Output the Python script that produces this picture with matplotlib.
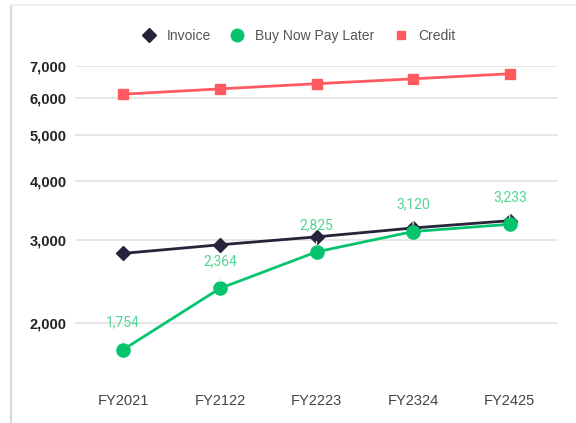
import matplotlib
matplotlib.use("Agg")
import matplotlib.pyplot as plt
from matplotlib.lines import Line2D
from matplotlib.ticker import FixedLocator, NullLocator, FuncFormatter

categories = ["FY2021", "FY2122", "FY2223", "FY2324", "FY2425"]
invoice = [2805, 2925, 3040, 3175, 3290]
bnpl = [1754, 2364, 2825, 3120, 3233]
credit = [6100, 6260, 6420, 6575, 6740]
bnpl_labels = ["1,754", "2,364", "2,825", "3,120", "3,233"]
y_ticks = [2000, 3000, 4000, 5000, 6000, 7000]

C_INV = "#25243a"
C_BNPL = "#06c46e"
C_BNPL_TXT = "#4fd892"
C_CRED = "#ff5a5f"

plt.rcParams["font.family"] = ["Liberation Sans", "DejaVu Sans"]

fig = plt.figure(figsize=(5.76, 4.23), dpi=100)
fig.patch.set_facecolor("white")

# card border
fig.add_artist(Line2D([11/576, 11/576], [0, 1 - 5/423], transform=fig.transFigure,
                      color="#dadada", lw=1.6))
fig.add_artist(Line2D([11/576, 1], [1 - 5/423, 1 - 5/423], transform=fig.transFigure,
                      color="#efefef", lw=1.6))

ax = fig.add_axes([75/576, 1 - 381.6/423, (558 - 75)/576, (381.6 - 66)/423])
x = list(range(len(categories)))

ax.plot(x, credit, color=C_CRED, lw=2, marker="s", ms=7.5, zorder=3)
ax.plot(x, invoice, color=C_INV, lw=2, marker="D", ms=7, zorder=3)
ax.plot(x, bnpl, color=C_BNPL, lw=2, marker="o", ms=9.5, zorder=4)

ax.set_yscale("log")
ax.set_ylim(1500, 7000)
ax.set_xlim(-0.5, 4.5)
ax.yaxis.set_major_locator(FixedLocator(y_ticks))
ax.yaxis.set_minor_locator(NullLocator())
ax.yaxis.set_major_formatter(FuncFormatter(lambda v, p: f"{int(round(v)):,}"))
ax.set_xticks(x)
ax.set_xticklabels(categories)

ax.grid(axis="y", color="#e3e3e3", lw=1.2)
ax.set_axisbelow(True)
for s in ax.spines.values():
    s.set_visible(False)
ax.tick_params(axis="y", length=0, pad=6, labelsize=10.5, labelcolor="#222222")
ax.tick_params(axis="x", length=0, pad=9, labelsize=10.5, labelcolor="#444444")
for t in ax.get_yticklabels():
    t.set_fontweight("bold")

for xi, v, lab in zip(x, bnpl, bnpl_labels):
    ax.annotate(lab, xy=(xi, v), xytext=(0, 19.5), textcoords="offset points",
                ha="center", va="center", fontsize=10, color=C_BNPL_TXT,
                family=["Roboto", "DejaVu Sans"],
                arrowprops=dict(arrowstyle="-", color="#e6e6e6", lw=1,
                                shrinkA=5, shrinkB=5), zorder=5)

handles = [
    Line2D([], [], color=C_INV, marker="D", ls="none", ms=7),
    Line2D([], [], color=C_BNPL, marker="o", ls="none", ms=9),
    Line2D([], [], color=C_CRED, marker="s", ls="none", ms=6.2),
]
fig.legend(handles, ["Invoice", "Buy Now Pay Later", "Credit"], loc="center",
           bbox_to_anchor=(299/576, 1 - 36/423), ncol=3, frameon=False,
           fontsize=10, labelcolor="#555555", handletextpad=0.8,
           columnspacing=1.37, handlelength=1.0)

fig.savefig("out.png", dpi=100, facecolor="white")
